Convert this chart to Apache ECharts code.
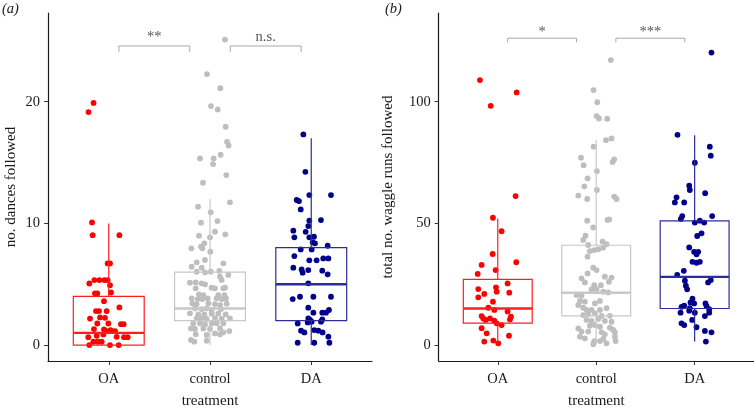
<!DOCTYPE html>
<html><head><meta charset="utf-8">
<script src="https://cdn.jsdelivr.net/npm/echarts@6/dist/echarts.min.js"></script>
<style>html,body{margin:0;padding:0;background:#fff}#c{width:754px;height:409px}</style>
</head><body><div id="c"></div>
<script>
// ---- data ----
const categories = ['OA', 'control', 'DA'];
const ticksA = [0, 10, 20];
const ticksB = [0, 50, 100];

// panel (a): no. dances followed  [jitter offset from category, value]
const aOA = [[-0.15,19.9],[-0.20,19.15],[-0.165,10.08],[-0.159,9.03],[0.105,9.03],[-0.011,6.71],[0.012,6.71],
[-0.192,5.06],[-0.142,5.34],[-0.093,5.34],[-0.043,5.34],[-0.011,5.34],[0.012,4.92],
[-0.136,4.24],[-0.113,4.24],[0.022,4.32],[-0.047,3.61],[0.105,3.09],
[-0.126,2.79],[-0.096,2.79],[-0.021,2.79],[-0.185,2.18],[-0.086,2.27],[-0.037,2.24],
[-0.113,1.77],[-0.004,1.77],[0.121,1.72],[0.147,1.72],[-0.146,1.31],[-0.047,1.28],[-0.021,1.14],[0.019,1.23],[0.062,1.14],
[-0.202,0.65],[-0.119,0.76],[0.078,0.68],[0.151,0.65],[0.187,0.65],[-0.053,0.87],
[-0.152,0.27],[-0.109,0.27],[-0.070,0.27],[-0.192,0.0],[0.012,0.0],[0.098,0.0]];
const aControl = [[0.148,25.11],[-0.030,22.27],[0.102,21.11],[0.010,19.64],[0.076,19.36],[0.155,17.94],[0.168,16.70],[0.184,16.40],
[-0.099,15.34],[0.036,15.34],[0.105,15.64],[0.030,14.87],[0.161,13.97],[-0.069,13.34],
[0.197,11.73],[-0.118,11.37],[0.007,10.91],[0.073,10.19],[-0.089,10.06],[0.049,9.32],[0.151,9.10],[-0.109,8.99],[0.0,8.85],
[-0.056,8.36],[-0.089,8.09],[-0.076,7.95],[-0.184,7.95],[0.003,7.67],[-0.050,6.99],[-0.132,6.80],[0.132,6.72],
[-0.181,6.44],[-0.082,6.36],[-0.132,6.03],[-0.049,5.98],[0.007,6.03],[0.092,6.09],[0.181,5.76],[0.099,5.62],
[-0.198,5.13],[-0.141,5.15],[-0.082,5.07],[-0.049,4.99],[0.115,5.35],
[-0.141,4.66],[0.016,4.72],[0.049,4.66],[0.132,4.66],[0.148,4.72],
[-0.109,4.17],[-0.066,4.11],[0.082,4.11],[0.142,4.11],
[-0.181,3.84],[-0.122,3.78],[-0.076,3.78],[-0.023,3.84],[0.066,3.84],[0.115,3.78],[0.158,3.84],
[-0.174,3.43],[-0.132,3.35],[-0.016,3.43],[0.049,3.37],[0.099,3.29],[0.165,3.40],
[-0.148,3.02],[-0.082,2.96],[-0.033,3.02],[0.017,2.88],[0.109,2.96],
[-0.198,2.61],[-0.115,2.52],[-0.056,2.52],[0.017,2.58],[0.082,2.58],[0.155,2.52],
[-0.132,2.20],[-0.082,2.14],[-0.033,2.14],[0.049,2.20],[0.115,2.14],[0.197,2.20],
[-0.165,1.79],[-0.099,1.79],[-0.049,1.70],[0.017,1.79],[0.066,1.79],[0.132,1.79],
[-0.188,1.37],[-0.148,1.32],[-0.066,1.37],[0.0,1.32],[0.099,1.37],[0.191,1.15],
[-0.141,0.88],[-0.033,0.83],[0.049,0.96],[0.099,0.88],[0.132,1.05],
[-0.188,0.42],[-0.033,0.36],[-0.155,0.28]];
const aDA = [[-0.078,17.31],[-0.058,14.24],[-0.019,12.33],[0.195,12.33],[-0.144,11.92],[-0.121,11.83],[-0.104,11.15],
[0.096,10.27],[-0.019,10.22],[-0.029,9.78],[-0.177,9.40],[-0.055,9.31],[-0.167,8.85],[-0.019,8.85],[0.027,8.90],
[0.014,8.44],[0.037,8.36],[-0.104,7.86],[0.004,7.86],[0.162,8.16],[-0.167,7.31],[-0.019,6.96],[0.053,6.96],
[0.119,7.12],[0.169,7.12],[-0.177,6.36],[-0.095,6.22],[-0.085,5.95],[-0.029,6.16],[0.109,6.11],[0.162,5.81],
[-0.029,5.07],[-0.183,3.78],[-0.111,3.97],[0.021,3.97],[0.195,3.97],[-0.029,3.07],[0.146,2.66],[0.109,2.66],
[0.021,2.66],[0.175,2.88],[-0.029,2.19],[0.004,1.92],[-0.012,2.06],[0.109,2.11],[0.096,1.92],[-0.134,1.78],
[-0.035,1.86],[-0.101,1.18],[-0.068,1.04],[0.030,1.23],[0.070,1.18],[0.112,1.04],[0.169,0.69],
[-0.134,0.19],[0.030,0.19],[0.179,0.19]];

// panel (b): total no. waggle runs followed
const bOA = [[-0.181,108.9],[0.192,103.8],[-0.072,98.3],[0.181,61.2],[-0.049,52.3],[0.039,46.8],[-0.052,37.4],
[0.188,34.0],[-0.164,32.9],[-0.022,30.8],[-0.204,29.2],[0.100,25.3],[-0.198,23.0],[-0.018,23.7],[0.117,21.5],
[-0.011,21.9],[-0.198,19.6],[-0.137,21.0],[-0.049,17.8],[-0.096,15.3],[-0.035,14.4],[0.100,13.8],[0.134,11.6],
[0.124,10.5],[-0.164,11.9],[-0.147,10.9],[-0.123,10.3],[-0.079,10.9],[-0.035,10.0],[-0.011,8.9],[0.039,8.2],
[-0.164,6.9],[-0.113,4.8],[0.114,3.8],[-0.137,1.4],[-0.045,1.8],[0.005,0.7]];
const bControl = [[0.149,117.1],[-0.027,104.8],[0.011,99.8],[0.004,94.1],[0.028,93.1],[0.112,93.0],[0.099,84.2],
[0.156,84.9],[-0.027,81.5],[-0.155,77.0],[-0.128,73.9],[0.183,76.3],[0.166,75.2],[0.007,71.5],[-0.088,68.5],
[-0.121,65.2],[0.007,63.7],[-0.182,61.4],[-0.091,60.0],[0.183,61.0],[0.207,60.0],[-0.091,51.1],[0.115,51.4],
[0.132,51.6],[-0.030,48.3],[-0.108,44.9],[-0.132,43.2],[-0.081,41.1],[0.065,42.5],[0.105,41.4],[0.071,40.0],
[-0.064,38.6],[-0.020,39.0],[0.021,39.4],[-0.088,36.3],[-0.030,31.8],[0.004,30.8],[-0.088,29.4],[-0.149,27.4],
[0.088,28.1],[0.156,27.7],[0.129,26.0],[-0.115,25.7],[-0.020,24.6],[0.048,24.6],[-0.047,22.9],[0.004,22.9],
[0.071,21.9],[0.122,21.6],[-0.199,20.5],[-0.149,20.3],[-0.165,18.1],[-0.115,17.8],[0.038,18.1],[-0.013,17.1],
[-0.182,16.4],[-0.132,15.3],[-0.098,14.4],[-0.047,14.4],[0.105,15.1],[0.038,14.4],[-0.132,12.3],[-0.081,12.6],
[-0.013,13.0],[0.055,12.0],[0.139,12.0],[-0.098,10.3],[-0.047,9.9],[0.021,10.7],[0.088,9.9],[0.156,9.6],
[-0.013,8.2],[0.038,7.5],[-0.064,7.9],[-0.182,6.8],[-0.149,5.5],[0.139,7.1],[0.173,6.2],[-0.081,5.5],
[0.055,5.2],[0.088,4.4],[-0.165,3.4],[-0.115,2.7],[0.190,5.2],[0.190,3.4],[0.197,1.6],[-0.020,1.6],
[0.038,1.6],[0.071,2.5],[0.105,0.7],[-0.030,0.3]];
const bDA = [[0.171,120.2],[-0.174,86.4],[0.154,81.5],[0.164,77.8],[0.002,74.9],[-0.055,65.5],[-0.049,63.7],
[0.107,62.4],[-0.184,60.7],[-0.201,58.6],[-0.106,58.6],[-0.126,53.0],[-0.140,51.8],[0.178,53.0],[0.002,50.3],
[0.053,51.1],[0.097,50.3],[0.070,45.9],[0.026,44.8],[-0.055,40.1],[-0.005,38.3],[0.036,38.3],[0.019,37.3],
[-0.022,34.2],[0.019,33.8],[0.053,34.2],[-0.110,30.5],[-0.177,28.8],[-0.099,26.4],[-0.089,24.4],[-0.076,22.9],
[0.137,25.7],[0.164,26.7],[-0.022,19.0],[-0.042,17.5],[-0.005,17.1],[0.110,17.1],[-0.133,15.7],[-0.106,16.2],
[-0.049,15.1],[0.121,16.0],[0.148,14.7],[0.148,13.3],[-0.143,13.3],[-0.055,14.1],[0.002,13.3],[0.104,11.9],
[-0.133,8.9],[-0.106,8.2],[-0.025,10.3],[0.019,7.3],[0.104,5.8],[0.171,5.2],[0.114,1.4]];

// box statistics: [category index, lower whisker, Q1, median, Q3, upper whisker]
const boxA = [[1, 0, 0, 1, 4, 10], [2, 0, 2, 3, 6, 12], [3, 0, 2, 5, 8, 17]];
const boxB = [[1, 0.5, 9, 15, 27, 52], [2, 0.3, 12, 21.5, 41, 84.4], [3, 1.4, 15, 28, 51, 86.2]];

// significance comparisons: [from, to]
const sigA = [[1.1, 1.8], [2.2, 2.9]];
const sigALabels = ['**', 'n.s.'];
const sigB = [[1.1, 1.8], [2.2, 2.9]];
const sigBLabels = ['*', '***'];

// ---- styles ----
const FONT = 'Liberation Serif';
const dotColors = ['#FF0000', '#BEBEBE', '#00008B'];
const boxColors = ['#FF1E1E', '#C8C8C8', '#2C2C9C'];

function place(arr, k) { return arr.map(p => [k + p[0], p[1]]); }

function boxRender(params, api) {
  const k = api.value(0);
  const w = api.size([0.7, 0])[0];
  const c = boxColors[k - 1];
  const lo = api.coord([k, api.value(1)]), q1 = api.coord([k, api.value(2)]),
        md = api.coord([k, api.value(3)]), q3 = api.coord([k, api.value(4)]),
        hi = api.coord([k, api.value(5)]);
  const x = lo[0], l = x - w / 2;
  const ls = { stroke: c, lineWidth: 1.2, fill: 'none' };
  return { type: 'group', children: [
    { type: 'line', shape: { x1: x, y1: hi[1], x2: x, y2: q3[1] }, style: ls },
    { type: 'line', shape: { x1: x, y1: q1[1], x2: x, y2: lo[1] }, style: ls },
    { type: 'rect', shape: { x: l, y: q3[1], width: w, height: q1[1] - q3[1] }, style: ls },
    { type: 'line', shape: { x1: l, y1: md[1], x2: l + w, y2: md[1] }, style: { stroke: c, lineWidth: 2.4 } }
  ] };
}

function sigRender(labels, yTop, yLeg, yText) {
  return function (params, api) {
    const x1 = api.value(0), x2 = api.value(1);
    const a = api.coord([x1, yTop]), b = api.coord([x2, yTop]), g = api.coord([x1, yLeg]);
    const t = api.coord([(x1 + x2) / 2, yText]);
    return { type: 'group', children: [
      { type: 'polyline', shape: { points: [[a[0], g[1]], [a[0], a[1]], [b[0], b[1]], [b[0], g[1]]] },
        style: { stroke: '#A8A8A8', fill: 'none', lineWidth: 1 } },
      { type: 'text', x: t[0], y: t[1],
        style: { text: labels[params.dataIndex], fill: '#555555', fontFamily: FONT, fontSize: 14.5, align: 'center', verticalAlign: 'middle' } }
    ] };
  };
}

function xAx(i) {
  return {
    gridIndex: i, type: 'value', min: 0.4, max: 3.6,
    axisLine: { onZero: false, lineStyle: { color: '#1a1a1a', width: 1.2 } },
    axisTick: { customValues: [1, 2, 3], length: 4, lineStyle: { color: '#333' } },
    axisLabel: { customValues: [1, 2, 3], formatter: v => categories[Math.round(v) - 1], margin: 10.5,
      fontFamily: FONT, fontSize: 14.5, color: '#1a1a1a' },
    splitLine: { show: false }
  };
}
function yAx(i, min, max, ticks) {
  return {
    gridIndex: i, type: 'value', min: min, max: max,
    axisLine: { show: true, onZero: false, lineStyle: { color: '#1a1a1a', width: 1.2 } },
    axisTick: { show: true, customValues: ticks, length: 4, lineStyle: { color: '#333' } },
    axisLabel: { customValues: ticks, margin: 8, fontFamily: FONT, fontSize: 14.5, color: '#1a1a1a' },
    splitLine: { show: false }
  };
}
function dots(data, k, i) {
  return { type: 'scatter', xAxisIndex: i, yAxisIndex: i, data: place(data, k), symbolSize: 5.8,
    itemStyle: { color: dotColors[k - 1], opacity: 1 }, z: 2, silent: true, animation: false };
}

const chart = echarts.init(document.getElementById('c'), null, { renderer: 'canvas' });
chart.setOption({
  animation: false,
  backgroundColor: '#ffffff',
  grid: [
    { left: 48, top: 13, width: 324, height: 348 },
    { left: 438.7, top: 13, width: 315, height: 348 }
  ],
  xAxis: [xAx(0), xAx(1)],
  yAxis: [yAx(0, -1.31, 27.29, ticksA), yAx(1, -6.58, 136.46, ticksB)],
  series: [
    dots(aOA, 1, 0), dots(aControl, 2, 0), dots(aDA, 3, 0),
    dots(bOA, 1, 1), dots(bControl, 2, 1), dots(bDA, 3, 1),
    { type: 'custom', xAxisIndex: 0, yAxisIndex: 0, data: boxA, renderItem: boxRender, z: 3, silent: true },
    { type: 'custom', xAxisIndex: 1, yAxisIndex: 1, data: boxB, renderItem: boxRender, z: 3, silent: true },
    { type: 'custom', xAxisIndex: 0, yAxisIndex: 0, data: sigA, encode: { x: [0, 1] },
      renderItem: sigRender(sigALabels, 24.58, 24.09, 25.3), z: 4, silent: true },
    { type: 'custom', xAxisIndex: 1, yAxisIndex: 1, data: sigB, encode: { x: [0, 1] },
      renderItem: sigRender(sigBLabels, 126.1, 124.4, 128.6), z: 4, silent: true }
  ],
  graphic: [
    { type: 'text', left: 2, top: 2, style: { text: '(a)', fontFamily: FONT, fontStyle: 'italic', fontSize: 14.5, fill: '#1a1a1a' } },
    { type: 'text', left: 385, top: 2, style: { text: '(b)', fontFamily: FONT, fontStyle: 'italic', fontSize: 14.5, fill: '#1a1a1a' } },
    { type: 'text', x: 210, y: 401.5, style: { text: 'treatment', fontFamily: FONT, fontSize: 15, fill: '#1a1a1a', align: 'center', verticalAlign: 'middle' } },
    { type: 'text', x: 596.3, y: 401.5, style: { text: 'treatment', fontFamily: FONT, fontSize: 15, fill: '#1a1a1a', align: 'center', verticalAlign: 'middle' } },
    { type: 'text', x: 11, y: 187, rotation: Math.PI / 2, style: { text: 'no. dances followed', fontFamily: FONT, fontSize: 15, fill: '#1a1a1a', align: 'center', verticalAlign: 'middle' } },
    { type: 'text', x: 388, y: 187, rotation: Math.PI / 2, style: { text: 'total no. waggle runs followed', fontFamily: FONT, fontSize: 15, fill: '#1a1a1a', align: 'center', verticalAlign: 'middle' } }
  ]
});
</script></body></html>
